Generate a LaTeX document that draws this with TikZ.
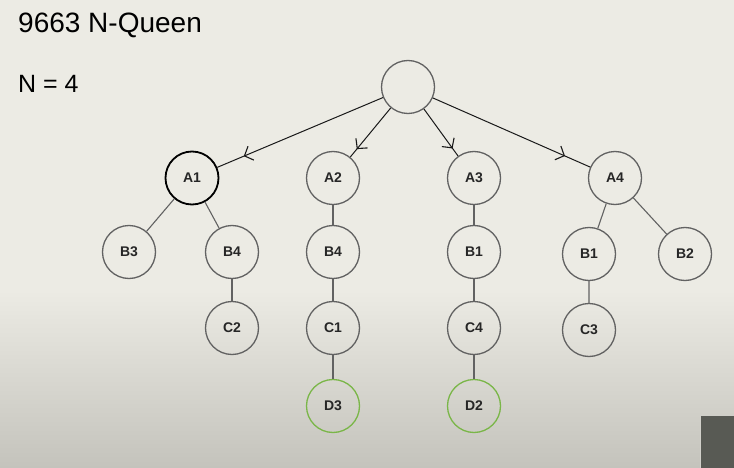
\documentclass[tikz,border=0pt]{standalone}
\usepackage{fontspec}
\setmainfont{Liberation Sans}
\usetikzlibrary{arrows.meta,decorations.markings}
\definecolor{paper}{RGB}{236,235,228}
\definecolor{paperdark}{RGB}{196,195,188}
\definecolor{ring}{RGB}{98,98,98}
\definecolor{okgreen}{RGB}{122,182,72}
\definecolor{cam}{RGB}{88,90,84}

\begin{document}
\begin{tikzpicture}[x=1pt,y=-1pt,
        state/.style={circle, draw=ring, line width=1.3pt, minimum size=53pt, inner sep=0pt, text=black!85,
        font=\fontsize{14}{15}\selectfont\bfseries},
        chosen/.style={state, draw=black, line width=1.8pt},
        found/.style={state, draw=okgreen},
        edge/.style={draw=ring, line width=1.1pt},
        pen/.style={draw=black!90, line width=1pt, postaction={decorate},
        decoration={markings, mark=at position 0.84 with {\arrow[line width=1.1pt]{Straight Barb[length=7pt,width=15pt]}}}}]
        % background
        \useasboundingbox (0,0) rectangle (734,468);
        \fill[paper] (0,0) rectangle (734,468);
        \shade[top color=paper, bottom color=paperdark] (0,290) rectangle (734,468);
        \fill[cam] (700,415) rectangle (734,468);
        \draw[paperdark!80!white, line width=1pt] (700,468) -- (700,415) -- (734,415);
        % title
        \node[anchor=base west, inner sep=0pt, font=\fontsize{28}{30}\selectfont] (title) at (18,33) {9663 N-Queen};
        \node[anchor=base west, inner sep=0pt, font=\fontsize{25}{27}\selectfont] (size) at (18,93) {N = 4};
        % tree
        \node[state] (root) at (408,87) {};
        \node[chosen] (a1) at (192,178) {A1};
        \node[state] (a2) at (333,178) {A2};
        \node[state] (a3) at (474,178) {A3};
        \node[state] (a4) at (615,178) {A4};
        \node[state] (b3) at (129,252) {B3};
        \node[state] (b4) at (232,252) {B4};
        \node[state] (b4x) at (333,252) {B4};
        \node[state] (b1) at (474,252) {B1};
        \node[state] (b1x) at (589,254) {B1};
        \node[state] (b2) at (685,254) {B2};
        \node[state] (c2) at (232,328) {C2};
        \node[state] (c1) at (333,328) {C1};
        \node[state] (c4) at (474,328) {C4};
        \node[state] (c3) at (589,330) {C3};
        \node[found] (d3) at (333,406) {D3};
        \node[found] (d2) at (474,406) {D2};
        \draw[pen] (root) -- (a1);
        \draw[pen] (root) -- (a2);
        \draw[pen] (root) -- (a3);
        \draw[pen] (root) -- (a4);
        \draw[edge] (a1) -- (b3);
        \draw[edge] (a1) -- (b4);
        \draw[edge] (b4) -- (c2);
        \draw[edge] (a2) -- (b4x) -- (c1) -- (d3);
        \draw[edge] (a3) -- (b1) -- (c4) -- (d2);
        \draw[edge] (a4) -- (b1x) -- (c3);
        \draw[edge] (a4) -- (b2);
    \end{tikzpicture}
\end{document}
